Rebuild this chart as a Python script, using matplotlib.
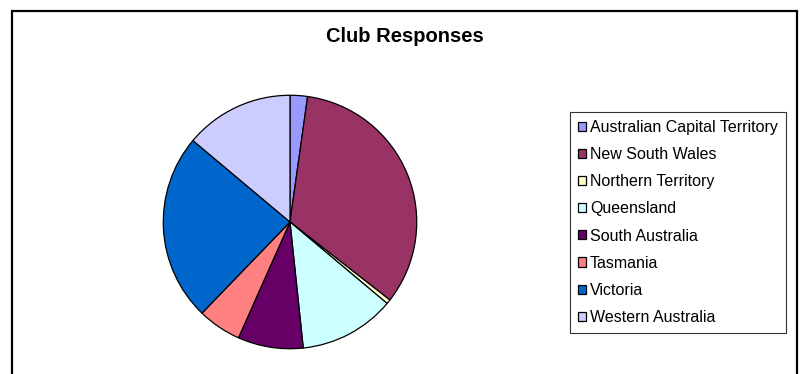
import matplotlib.pyplot as plt
from matplotlib.patches import Rectangle

# Club responses by state / territory
states = ['Australian Capital Territory', 'New South Wales', 'Northern Territory',
          'Queensland', 'South Australia', 'Tasmania', 'Victoria', 'Western Australia']
responses = [4, 60, 1, 22, 15, 10, 43, 25]
colours = ['#9999FF', '#993366', '#FFFFCC', '#CCFFFF', '#660066', '#FF8080', '#0066CC', '#CCCCFF']

plt.rcParams['font.family'] = ['Liberation Sans', 'DejaVu Sans']

fig = plt.figure(figsize=(8.04, 3.74), dpi=100)
W, H = 804, 374

# chart area border (bottom edge falls outside the picture)
fig.add_artist(Rectangle((12 / W, -0.1), 785 / W, 1.1 - 11 / H, transform=fig.transFigure,
                         fill=False, edgecolor='black', linewidth=1.6))

fig.text(405 / W, 1 - 37 / H, 'Club Responses', ha='center', va='center',
         fontsize=14.5, fontweight='bold')

ax = fig.add_axes([(290 - 128) / W, (374 - 222 - 128) / H, 256 / W, 256 / H])
wedges, _ = ax.pie(responses, colors=colours, startangle=90, counterclock=False,
                   wedgeprops=dict(edgecolor='black', linewidth=0.9))
ax.set_xlim(-1.01, 1.01)
ax.set_ylim(-1.01, 1.01)
ax.set_aspect('equal')

leg = fig.legend(wedges, states, loc='upper left', bbox_to_anchor=(570 / W, 1 - 112 / H),
                 fontsize=11.5, frameon=True, fancybox=False, edgecolor='black',
                 handlelength=0.5, handleheight=0.5, handletextpad=0.25,
                 labelspacing=0.76, borderpad=0.5, borderaxespad=0)
leg.get_frame().set_linewidth(0.8)

fig.savefig('out.png', dpi=100)
